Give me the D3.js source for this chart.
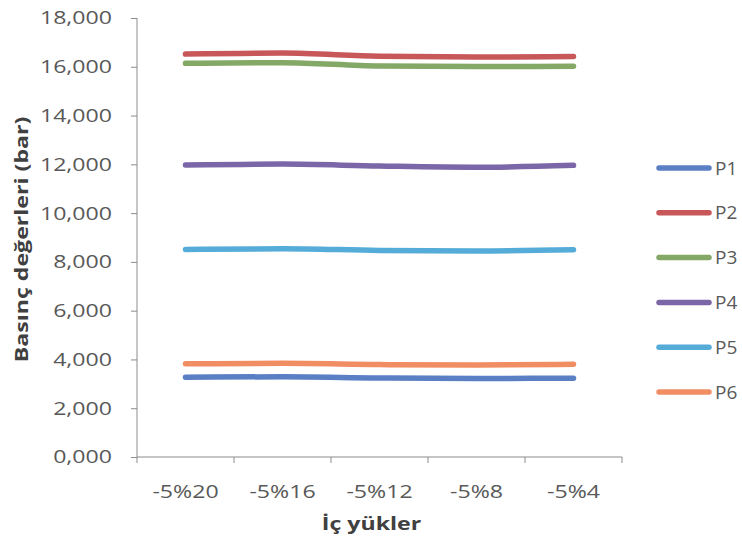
<!DOCTYPE html>
<html>
<head>
<meta charset="utf-8">
<script src="https://cdn.jsdelivr.net/npm/d3@7"></script>
<style>
  body { margin: 0; background: #fff; }
  text { font-family: "Open Sans", sans-serif; }
</style>
</head>
<body>
<div id="chart"></div>
<script>
// data
const categories = ["-5%20", "-5%16", "-5%12", "-5%8", "-5%4"]
const seriesNames = ["P1", "P2", "P3", "P4", "P5", "P6"]
const p1 = [3270, 3290, 3240, 3220, 3230]
const p2 = [16520, 16560, 16430, 16400, 16420]
const p3 = [16140, 16170, 16030, 16010, 16020]
const p4 = [11970, 12010, 11930, 11880, 11960]
const p5 = [8510, 8540, 8470, 8450, 8500]
const p6 = [3820, 3840, 3790, 3770, 3800]
const yTicks = [0, 2000, 4000, 6000, 8000, 10000, 12000, 14000, 16000, 18000]
const colors = ["#5a7fc4", "#c8575a", "#84a865", "#7b66a8", "#55acd8", "#f08d62"]

const series = seriesNames.map((name, i) => ({
    name, color: colors[i], values: [p1, p2, p3, p4, p5, p6][i]
}))

const W = 742, H = 543
const margin = {top: 18, left: 137}
const width = 622 - margin.left
const height = 457 - margin.top
const stretch = 1.25  // the source text is drawn wide

const svg = d3.select("#chart").append("svg")
    .attr("width", W)
    .attr("height", H)

const g = svg.append("g")
    .attr("transform", `translate(${margin.left},${margin.top})`)

// scales
const xScale = d3.scaleBand()
    .domain(categories)
    .range([0, width])

const yScale = d3.scaleLinear()
    .domain([0, 18000])
    .range([height, 0])

// y axis
const yAx = d3.axisLeft(yScale)
    .tickValues(yTicks)
    .tickSize(6)
    .tickFormat(d => (d / 1000) + ",000")

const yGroup = g.append("g").call(yAx)
yGroup.select(".domain").attr("stroke", "#8c8c8c").attr("d", `M0,0V${height}`)
yGroup.selectAll(".tick line").attr("stroke", "#8c8c8c")
yGroup.selectAll(".tick text")
    .attr("x", 0)
    .attr("transform", `translate(-25,0) scale(${stretch},1)`)
    .attr("fill", "#595959")
    .style("font-size", "18.5px")

// x axis
const xAx = d3.axisBottom(xScale)
    .tickSize(0)

const xGroup = g.append("g")
    .attr("transform", `translate(0,${height})`)
    .call(xAx)
xGroup.select(".domain").attr("stroke", "#8c8c8c").attr("d", `M0,0H${width}`)
xGroup.selectAll(".tick text")
    .attr("y", 0)
    .attr("transform", `translate(0,28) scale(${stretch},1)`)
    .attr("fill", "#595959")
    .style("font-size", "18.5px")

// x tick marks at band boundaries
const bounds = categories.map(c => xScale(c)).concat([width])
xGroup.selectAll(".bound")
    .data(bounds)
    .join("line")
    .attr("class", "bound")
    .attr("x1", d => d).attr("x2", d => d)
    .attr("y1", 0).attr("y2", 6)
    .attr("stroke", "#8c8c8c")

// lines
const lineGen = d3.line()
    .curve(d3.curveMonotoneX)
    .x((d, i) => xScale(categories[i]) + xScale.bandwidth() / 2)
    .y(d => yScale(d))

g.selectAll(".series")
    .data(series)
    .join("path")
    .attr("class", "series")
    .attr("d", d => lineGen(d.values))
    .attr("fill", "none")
    .attr("stroke", d => d.color)
    .attr("stroke-width", 5.5)
    .attr("stroke-linecap", "round")

// axis titles
svg.append("text")
    .attr("transform", `translate(28,${margin.top + height / 2 + 2}) rotate(-90) scale(${stretch},1)`)
    .attr("text-anchor", "middle")
    .attr("fill", "#404040")
    .style("font-size", "18.5px")
    .style("font-weight", "bold")
    .text("Basınç değerleri (bar)")

svg.append("text")
    .attr("transform", `translate(${margin.left + width / 2 - 8},530) scale(${stretch},1)`)
    .attr("text-anchor", "middle")
    .attr("fill", "#404040")
    .style("font-size", "18.5px")
    .style("font-weight", "bold")
    .text("İç yükler")

// legend
const legend = svg.append("g")
    .attr("transform", "translate(659,168)")

const items = legend.selectAll(".item")
    .data(series)
    .join("g")
    .attr("class", "item")
    .attr("transform", (d, i) => `translate(0,${i * 44.8})`)

items.append("line")
    .attr("x1", 0).attr("x2", 50)
    .attr("stroke", d => d.color)
    .attr("stroke-width", 5.5)
    .attr("stroke-linecap", "round")

items.append("text")
    .attr("x", 56)
    .attr("dy", "0.35em")
    .attr("fill", "#595959")
    .style("font-size", "19px")
    .text(d => d.name)
</script>
</body>
</html>
